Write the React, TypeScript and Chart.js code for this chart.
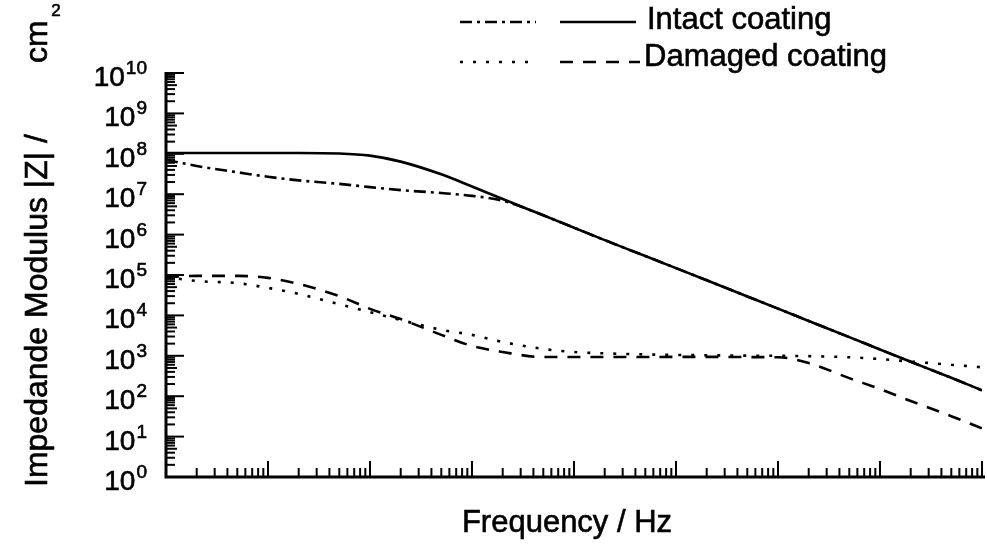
import React, { useEffect, useRef } from "react";
import { Chart, registerables } from "chart.js";
Chart.register(...registerables);

const frequencies = [0.01, 0.02, 0.05, 0.1, 0.2, 0.5, 1, 2, 5, 10, 20, 50, 100, 200, 500, 1000, 2000, 5000, 1e4, 2e4, 5e4, 1e5, 2e5, 5e5, 1e6];

const intactSolid = [1.05e8, 1.05e8, 1.05e8, 1.05e8, 1.05e8, 1.02e8, 9.0e7, 6.4e7, 3.1e7, 1.55e7, 7.6e6, 3.0e6, 1.48e6, 7.3e5, 2.95e5, 1.48e5, 7.4e4, 2.95e4, 1.47e4, 7.3e3, 2.9e3, 1.43e3, 7.1e2, 2.85e2, 1.4e2];
const intactDashDot = [7.1e7, 5.0e7, 3.5e7, 2.7e7, 2.2e7, 1.8e7, 1.5e7, 1.26e7, 1.07e7, 9.1e6, 6.9e6, 3.0e6, 1.48e6, 7.3e5, 2.95e5, 1.48e5, 7.4e4, 2.95e4, 1.47e4, 7.3e3, 2.9e3, 1.43e3, 7.1e2, 2.85e2, 1.4e2];
const damagedDashed = [8.9e4, 9.5e4, 9.5e4, 8.5e4, 6.0e4, 3.0e4, 1.45e4, 8.1e3, 3.3e3, 1.75e3, 1.24e3, 9.3e2, 9.3e2, 9.3e2, 9.3e2, 9.4e2, 9.4e2, 9.3e2, 9.2e2, 6.6e2, 2.8e2, 1.5e2, 76, 32, 16];
const damagedDotted = [8.9e4, 7.1e4, 6.3e4, 4.8e4, 3.4e4, 1.9e4, 1.2e4, 7.7e3, 4.4e3, 3.3e3, 2.2e3, 1.48e3, 1.24e3, 1.15e3, 1.08e3, 1.05e3, 1.03e3, 1.01e3, 1.0e3, 9.8e2, 9.2e2, 8.3e2, 7.2e2, 6.0e2, 5.2e2];

const yExponents = [0, 1, 2, 3, 4, 5, 6, 7, 8, 9, 10];
const xDecades = [0.01, 0.1, 1, 10, 100, 1000, 1e4, 1e5, 1e6];

const xTitle = "Frequency / Hz";
const yTitle = "Impedande Modulus |Z| /";
const yUnit = "cm";
const yUnitSup = "2";
const legendIntact = "Intact coating";
const legendDamaged = "Damaged coating";

const FONT = "'Liberation Sans', Arial, sans-serif";

const toPoints = (ys: number[]) => frequencies.map((f, i) => ({ x: f, y: ys[i] }));

const text = (ctx: CanvasRenderingContext2D, s: string, x: number, y: number) => {
  ctx.fillText(s, x, y);
  ctx.strokeText(s, x, y);
};

const decorPlugin = {
  id: "decor",
  afterDraw(chart: any) {
    const ctx: CanvasRenderingContext2D = chart.ctx;
    const xs = chart.scales.x;
    const ys = chart.scales.y;
    const area = chart.chartArea;
    ctx.save();
    ctx.strokeStyle = "#000";
    ctx.fillStyle = "#000";
    ctx.setLineDash([]);

    // axis lines
    ctx.lineWidth = 3;
    ctx.beginPath();
    ctx.moveTo(area.left, area.top - 1);
    ctx.lineTo(area.left, area.bottom);
    ctx.lineTo(area.right + 3, area.bottom);
    ctx.stroke();

    // y ticks (inward)
    ctx.lineWidth = 2;
    for (const e of yExponents) {
      const base = Math.pow(10, e);
      const py = ys.getPixelForValue(base);
      ctx.beginPath();
      ctx.moveTo(area.left, py);
      ctx.lineTo(area.left + 18, py);
      ctx.stroke();
      if (e < 10) {
        for (let m = 2; m <= 9; m++) {
          const pm = ys.getPixelForValue(base * m);
          ctx.beginPath();
          ctx.moveTo(area.left, pm);
          ctx.lineTo(area.left + (m === 5 ? 11 : 9), pm);
          ctx.stroke();
        }
      }
    }
    // x ticks (inward)
    for (let i = 0; i < xDecades.length; i++) {
      const d = xDecades[i];
      const px = xs.getPixelForValue(d);
      ctx.beginPath();
      ctx.moveTo(px, area.bottom);
      ctx.lineTo(px, area.bottom - 16);
      ctx.stroke();
      if (i < xDecades.length - 1) {
        for (let m = 2; m <= 9; m++) {
          const pm = xs.getPixelForValue(d * m);
          ctx.beginPath();
          ctx.moveTo(pm, area.bottom);
          ctx.lineTo(pm, area.bottom - 9);
          ctx.stroke();
        }
      }
    }

    // y tick labels 10^n
    ctx.lineWidth = 0.6;
    ctx.textBaseline = "alphabetic";
    for (const e of yExponents) {
      const py = ys.getPixelForValue(Math.pow(10, e));
      const expText = String(e);
      ctx.font = `19px ${FONT}`;
      const ew = ctx.measureText(expText).width;
      ctx.textAlign = "right";
      text(ctx, expText, 147, py + 1);
      ctx.font = `28px ${FONT}`;
      text(ctx, "10", 147 - ew - 1, py + 13);
    }

    // x title
    ctx.font = `31px ${FONT}`;
    ctx.textAlign = "center";
    text(ctx, xTitle, (area.left + area.right) / 2 - 7, 532);

    // y title
    ctx.save();
    ctx.translate(47, 487);
    ctx.rotate(-Math.PI / 2);
    ctx.textAlign = "left";
    ctx.font = `32px ${FONT}`;
    text(ctx, yTitle, 0, 0);
    text(ctx, yUnit, 487 - 63, 0);
    ctx.restore();
    ctx.font = `17px ${FONT}`;
    ctx.textAlign = "center";
    text(ctx, yUnitSup, 56, 16);

    // legend
    const ds = chart.data.datasets;
    const sample = (d: any, x1: number, x2: number, y: number) => {
      ctx.save();
      ctx.strokeStyle = d.borderColor;
      ctx.lineWidth = d.borderWidth;
      ctx.lineCap = d.borderCapStyle || "butt";
      ctx.setLineDash(d.borderDash || []);
      ctx.beginPath();
      ctx.moveTo(x1, y);
      ctx.lineTo(x2, y);
      ctx.stroke();
      ctx.restore();
    };
    sample(ds[1], 460, 536, 22);
    sample(ds[0], 560, 636, 22);
    sample(ds[3], 460, 532, 62);
    sample(ds[2], 560, 640, 62);
    ctx.font = `31px ${FONT}`;
    ctx.textAlign = "left";
    ctx.lineWidth = 0.6;
    text(ctx, legendIntact, 647, 29);
    text(ctx, legendDamaged, 644, 66);

    ctx.restore();
  },
};

export default function App() {
  const ref = useRef<HTMLCanvasElement | null>(null);
  useEffect(() => {
    if (!ref.current) return;
    const chart = new Chart(ref.current, {
      type: "line",
      data: {
        datasets: [
          {
            label: legendIntact,
            data: toPoints(intactSolid),
            borderColor: "#000",
            borderWidth: 2.6,
            borderDash: [],
            cubicInterpolationMode: "monotone",
          },
          {
            label: legendIntact,
            data: toPoints(intactDashDot),
            borderColor: "#000",
            borderWidth: 2.6,
            borderDash: [12, 5, 3, 5],
            cubicInterpolationMode: "monotone",
          },
          {
            label: legendDamaged,
            data: toPoints(damagedDashed),
            borderColor: "#000",
            borderWidth: 2.6,
            borderDash: [13, 10],
            cubicInterpolationMode: "monotone",
          },
          {
            label: legendDamaged,
            data: toPoints(damagedDotted),
            borderColor: "#000",
            borderWidth: 2.6,
            borderDash: [3, 10],
            cubicInterpolationMode: "monotone",
          },
        ],
      } as any,
      options: {
        animation: false,
        responsive: false,
        maintainAspectRatio: false,
        layout: { padding: { left: 166, right: 5, top: 73, bottom: 68 } },
        plugins: { legend: { display: false }, tooltip: { enabled: false } },
        elements: { point: { radius: 0 } },
        scales: {
          x: { type: "logarithmic", min: 0.01, max: 1e6, display: false },
          y: { type: "logarithmic", min: 1, max: 1e10, display: false },
        },
      } as any,
      plugins: [decorPlugin],
    });
    return () => chart.destroy();
  }, []);
  return (
    <div style={{ position: "fixed", left: 0, top: 0, width: 987, height: 545, background: "#fff" }}>
      <canvas ref={ref} width={987} height={545} style={{ display: "block" }} />
    </div>
  );
}
